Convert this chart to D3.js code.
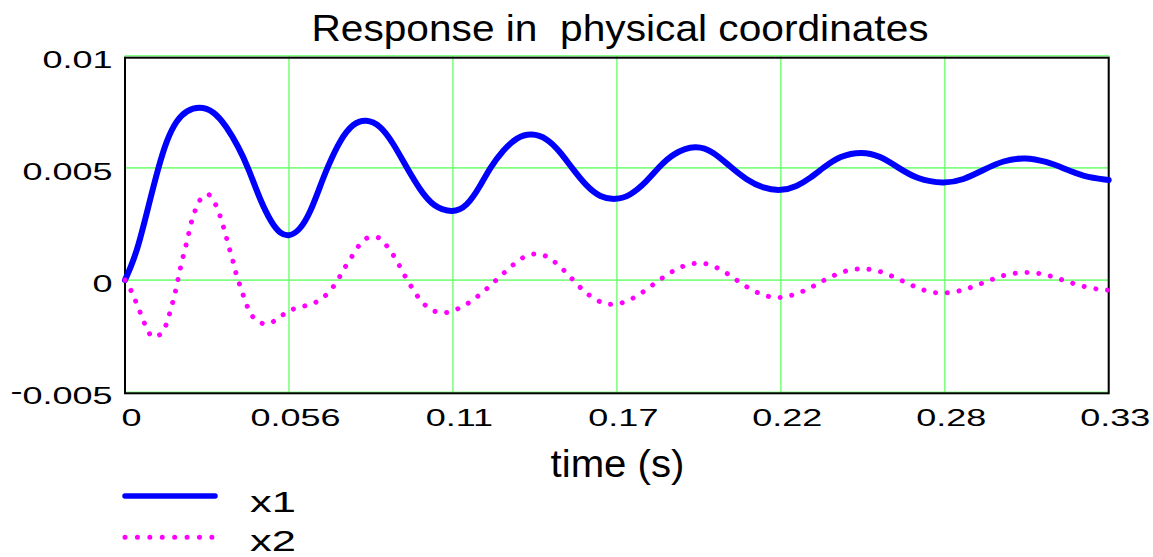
<!DOCTYPE html>
<html><head><meta charset="utf-8">
<script src="https://cdn.jsdelivr.net/npm/d3@7"></script>
<style>
body{margin:0;background:#fff}
svg{display:block}
text{font-family:"Liberation Sans",Arial,Helvetica,sans-serif;fill:#000;white-space:pre}
</style>
</head><body>
<svg id="c" width="1153" height="557"></svg>
<script>
const title = "Response in  physical coordinates";
const xLabel = "time (s)";
const seriesNames = ["x1", "x2"];
const xTickValues = [0, 0.05556, 0.11111, 0.16667, 0.22222, 0.27778, 0.33333];
const xTickLabels = ["0", "0.056", "0.11", "0.17", "0.22", "0.28", "0.33"];
const yTickValues = [-0.005, 0, 0.005, 0.01];
const yTickLabels = ["-0.005", "0", "0.005", "0.01"];

const t1 = [0, 0.00186, 0.00451, 0.00790, 0.01128, 0.01413, 0.01752, 0.02091, 0.02508, 0.02992, 0.03446, 0.03839, 0.04178, 0.04575, 0.04971, 0.05252, 0.05557, 0.05930, 0.06269, 0.06608, 0.06855, 0.07285, 0.07736, 0.08166, 0.08641, 0.09092, 0.09546, 0.09996, 0.10447, 0.11104, 0.11579, 0.12029, 0.12368, 0.12819, 0.13273, 0.13781, 0.14290, 0.14740, 0.15137, 0.15645, 0.16096, 0.16628, 0.17112, 0.17678, 0.18071, 0.18580, 0.19349, 0.19935, 0.20501, 0.21067, 0.21630, 0.22229, 0.22761, 0.23212, 0.23663, 0.24228, 0.24963, 0.25584, 0.26204, 0.26828, 0.27753, 0.28407, 0.29085, 0.29763, 0.30498, 0.31233, 0.31796, 0.32474, 0.33333];
const x1 = [0, 0.00054, 0.00149, 0.00327, 0.00501, 0.00625, 0.00714, 0.00756, 0.00774, 0.00756, 0.00684, 0.00595, 0.00501, 0.00357, 0.00253, 0.00208, 0.00193, 0.00223, 0.00298, 0.00417, 0.00501, 0.00625, 0.00700, 0.00717, 0.00692, 0.00610, 0.00501, 0.00402, 0.00327, 0.00299, 0.00327, 0.00417, 0.00501, 0.00580, 0.00637, 0.00655, 0.00633, 0.00573, 0.00501, 0.00417, 0.00369, 0.00357, 0.00375, 0.00439, 0.00501, 0.00566, 0.00603, 0.00573, 0.00506, 0.00446, 0.00409, 0.00397, 0.00417, 0.00454, 0.00501, 0.00554, 0.00573, 0.00554, 0.00501, 0.00450, 0.00429, 0.00446, 0.00491, 0.00533, 0.00548, 0.00528, 0.00499, 0.00461, 0.00446];

const t2 = [0, 0.00237, 0.00396, 0.00552, 0.00712, 0.00939, 0.01254, 0.01433, 0.01549, 0.01660, 0.01752, 0.01840, 0.01932, 0.02033, 0.02135, 0.02226, 0.02348, 0.02508, 0.02802, 0.03060, 0.03219, 0.03345, 0.03456, 0.03568, 0.03683, 0.03785, 0.03921, 0.04056, 0.04212, 0.04463, 0.04846, 0.05218, 0.05557, 0.05964, 0.06347, 0.06720, 0.07014, 0.07252, 0.07455, 0.07682, 0.07906, 0.08211, 0.08607, 0.08902, 0.09139, 0.09342, 0.09546, 0.09769, 0.10007, 0.10312, 0.10698, 0.11098, 0.11488, 0.11843, 0.12165, 0.12480, 0.12799, 0.13104, 0.13443, 0.13836, 0.14243, 0.14595, 0.14900, 0.15191, 0.15486, 0.15815, 0.16187, 0.16580, 0.17000, 0.17373, 0.17722, 0.18061, 0.18410, 0.18773, 0.19169, 0.19586, 0.19993, 0.20355, 0.20694, 0.21043, 0.21426, 0.21823, 0.22229, 0.22636, 0.23033, 0.23416, 0.23788, 0.24161, 0.24568, 0.24974, 0.25391, 0.25798, 0.26184, 0.26577, 0.26950, 0.27357, 0.27763, 0.28194, 0.28590, 0.28983, 0.29380, 0.29786, 0.30193, 0.30609, 0.31040, 0.31436, 0.31843, 0.32236, 0.32643, 0.33063, 0.33333];
const x2 = [0, -0.00055, -0.00106, -0.00156, -0.00207, -0.00253, -0.00235, -0.00183, -0.00131, -0.00077, -0.00025, 0.00031, 0.00085, 0.00138, 0.00193, 0.00247, 0.00299, 0.00351, 0.00383, 0.00339, 0.00287, 0.00233, 0.00180, 0.00126, 0.00073, 0.00019, -0.00034, -0.00086, -0.00137, -0.00182, -0.00195, -0.00167, -0.00137, -0.00119, -0.00106, -0.00077, -0.00037, 0.00010, 0.00057, 0.00104, 0.00150, 0.00188, 0.00188, 0.00147, 0.00101, 0.00054, 0.00004, -0.00043, -0.00088, -0.00126, -0.00146, -0.00137, -0.00114, -0.00083, -0.00049, -0.00012, 0.00027, 0.00063, 0.00097, 0.00116, 0.00108, 0.00077, 0.00040, 0, -0.00040, -0.00075, -0.00101, -0.00108, -0.00094, -0.00068, -0.00037, -0.00004, 0.00027, 0.00054, 0.00071, 0.00075, 0.00059, 0.00033, 0.00003, -0.00028, -0.00055, -0.00073, -0.00077, -0.00066, -0.00046, -0.00021, 0.00006, 0.00028, 0.00045, 0.00050, 0.00045, 0.00028, 0.00006, -0.00018, -0.00039, -0.00054, -0.00057, -0.00050, -0.00036, -0.00017, 0.00003, 0.00021, 0.00031, 0.00034, 0.00028, 0.00015, -0.00003, -0.00019, -0.00033, -0.00042, -0.00045];

const svg = d3.select("#c");
const L = 125, R = 1108.7, T = 55.7, B = 392.3;
const x = d3.scaleLinear().domain([0, 0.33333]).range([L, R]);
const y = d3.scaleLinear().domain([-0.005, 0.01]).range([B, T]);
const gridColor = "#80ff80";

// grid
svg.append("g").selectAll("line").data(yTickValues).join("line")
  .attr("x1", L).attr("x2", R).attr("y1", d => y(d)).attr("y2", d => y(d))
  .attr("stroke", gridColor).attr("stroke-width", 1.6);
svg.append("g").selectAll("line").data(xTickValues).join("line")
  .attr("x1", d => x(d)).attr("x2", d => x(d)).attr("y1", T).attr("y2", B + 1)
  .attr("stroke", gridColor).attr("stroke-width", 1.6);

// frame
svg.append("rect").attr("x", L).attr("y", T + 2).attr("width", R - L).attr("height", (B + 1) - (T + 2))
  .attr("fill", "none").attr("stroke", "#000").attr("stroke-width", 2);

// x axis labels
const xAxis = d3.axisBottom(x).tickValues(xTickValues).tickFormat((d, i) => xTickLabels[i]).tickSize(0);
const gx = svg.append("g").attr("transform", `translate(0,${B})`).call(xAxis);
gx.select(".domain").remove();
gx.selectAll("text").attr("y", 0).attr("dy", null)
  .attr("font-size", 24).attr("font-family", '"Liberation Sans",Arial,sans-serif').attr("fill", "#000")
  .attr("transform", `translate(6,${426 - B}) scale(1.5,1)`);

// y axis labels
const yAxis = d3.axisLeft(y).tickValues(yTickValues).tickFormat((d, i) => yTickLabels[i]).tickSize(0);
const gy = svg.append("g").attr("transform", `translate(${L},0)`).call(yAxis);
gy.select(".domain").remove();
gy.selectAll("text").attr("x", 0).attr("dy", null)
  .attr("font-size", 24).attr("font-family", '"Liberation Sans",Arial,sans-serif').attr("fill", "#000")
  .attr("text-anchor", "end")
  .attr("transform", `translate(-12.5,11.5) scale(1.5,1)`)
  .each(function(d, i) {
    const s = yTickLabels[i];
    if (s.startsWith("-")) {
      const t = d3.select(this); t.text(null);
      t.append("tspan").attr("dy", -5).text("-");
      t.append("tspan").attr("dy", 5).text(s.slice(1));
    }
  });

// series
const line1 = d3.line().x(d => x(d[0])).y(d => y(d[1])).curve(d3.curveBasis);
const line2 = d3.line().x(d => x(d[0])).y(d => y(d[1])).curve(d3.curveCatmullRom.alpha(0.5));
const d1 = t1.map((t, i) => [t, x1[i]]);
const d2 = t2.map((t, i) => [t, x2[i]]);
svg.append("path").datum(d1).attr("d", line1).attr("fill", "none")
  .attr("stroke", "#0000ff").attr("stroke-width", 6).attr("stroke-linecap", "round").attr("stroke-linejoin", "round");
svg.append("path").datum(d2).attr("d", line2).attr("fill", "none")
  .attr("stroke", "#ff00ff").attr("stroke-width", 5).attr("stroke-linecap", "round")
  .attr("stroke-dasharray", "0.01 11.8");

// title
svg.append("text").attr("font-size", 36).attr("text-anchor", "middle")
  .attr("transform", "translate(620,40.7) scale(1.13,1)").text(title);

// x label
svg.append("text").attr("font-size", 39).attr("text-anchor", "middle")
  .attr("transform", "translate(617.5,477) scale(1.03,1)").text(xLabel);

// legend
const legend = svg.append("g");
legend.append("line").attr("x1", 125).attr("x2", 215).attr("y1", 496).attr("y2", 496)
  .attr("stroke", "#0000ff").attr("stroke-width", 5.5).attr("stroke-linecap", "round");
legend.append("line").attr("x1", 125).attr("x2", 213).attr("y1", 537.3).attr("y2", 537.3)
  .attr("stroke", "#ff00ff").attr("stroke-width", 5).attr("stroke-linecap", "round")
  .attr("stroke-dasharray", "0.01 12.4");
legend.selectAll("text").data(seriesNames).join("text")
  .attr("font-size", 29)
  .attr("transform", (d, i) => `translate(250,${511.7 + i * 39.5}) scale(1.5,1)`)
  .text(d => d);
</script>
</body></html>
